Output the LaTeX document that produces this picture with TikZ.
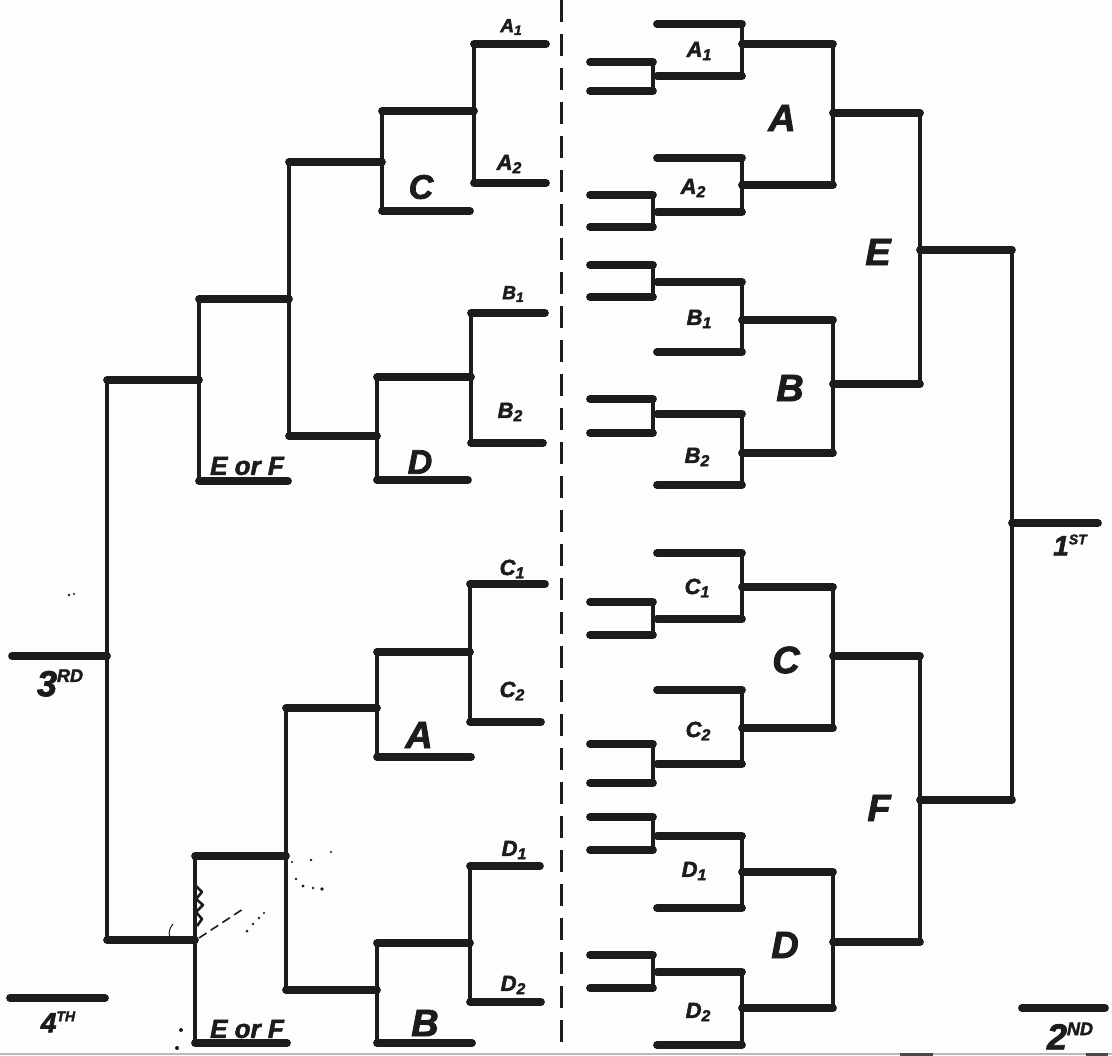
\documentclass[tikz,border=0pt]{standalone}
\usepackage{fontspec}
\setmainfont{Liberation Sans}
\newfontfamily\handfont{Liberation Sans}[FakeBold=2.2]
\definecolor{inkc}{HTML}{1C1C1C}
\definecolor{paper}{HTML}{FDFDFD}
% letter with a lowered index (A1, B2, ...) and with a raised ending (3RD, 1ST, ...)
\newcommand\lowidx[2]{#1\raisebox{-0.28ex}{\scalebox{0.72}{#2}}}
\newcommand\highend[2]{#1\raisebox{0.75ex}{\scalebox{0.5}{#2}}}
% right-hand first round: pair of entry stubs, and the box they feed
\newcommand\stubpair[2]{%
  \draw[hbar] (590,#1) -- (653,#1);
  \draw[hbar] (590,#2) -- (653,#2);
  \draw[vbar] (653,#1) -- (653,#2);}
\newcommand\boxpair[3]{%
  \draw[hbar] (657,#1) -- (742,#1);
  \draw[hbar] (657,#2) -- (742,#2);
  \draw[vbar] (742,#1) -- (742,#2);
  \draw[hbar] (742,#3) -- (833,#3);}
\tikzset{
  hbar/.style={draw=inkc, line width=7.8pt, line cap=round},
  vbar/.style={draw=inkc, line width=4.8pt, line cap=round},
  lvbar/.style={draw=inkc, line width=4.2pt, line cap=round},
  tag/.style={text=inkc, inner sep=0pt, font=\handfont\bfseries\itshape\fontsize{22}{22}\selectfont},
  smalltag/.style={tag, font=\handfont\bfseries\itshape\fontsize{19}{19}\selectfont},
  bigtag/.style={tag, font=\handfont\bfseries\itshape\fontsize{38}{38}\selectfont},
  midtag/.style={tag, font=\handfont\bfseries\itshape\fontsize{34}{34}\selectfont},
  placetag/.style={tag, font=\handfont\bfseries\itshape\fontsize{36}{36}\selectfont},
  speck/.style={fill=inkc},
}
\begin{document}
\begin{tikzpicture}[x=1pt,y=-1pt]
\fill[paper] (0,0) rectangle (1112,1056);
\useasboundingbox (0,0) rectangle (1112,1056);

% ---------- dividing line ----------
\draw[inkc, line width=3pt, dash pattern=on 22pt off 12pt] (561,0) -- (561,1050);

% ---------- left bracket, upper half ----------
\draw[hbar] (474,44) -- (546,44);
\draw[hbar] (474,183) -- (546,183);
\draw[vbar] (474,44) -- (474,183);
\draw[hbar] (382,111) -- (474,111);
\draw[vbar] (382,111) -- (382,211);
\draw[hbar] (382,211) -- (470,211);
\draw[hbar] (289,162) -- (382,162);

\draw[hbar] (471,313) -- (545,313);
\draw[hbar] (471,443) -- (543,443);
\draw[vbar] (471,313) -- (471,443);
\draw[hbar] (377,377) -- (471,377);
\draw[vbar] (377,377) -- (377,480);
\draw[hbar] (377,480) -- (468,480);
\draw[hbar] (289,436) -- (377,436);

\draw[lvbar] (289,162) -- (289,436);
\draw[hbar] (199,299) -- (289,299);
\draw[lvbar] (199,299) -- (199,481);
\draw[hbar] (199,481) -- (288,481);
\draw[hbar] (107,380) -- (199,380);

% ---------- left bracket, lower half ----------
\draw[hbar] (470,584) -- (545,584);
\draw[hbar] (470,722) -- (541,722);
\draw[vbar] (470,584) -- (470,722);
\draw[hbar] (377,652) -- (470,652);
\draw[vbar] (377,652) -- (377,757);
\draw[hbar] (377,757) -- (471,757);
\draw[hbar] (286,708) -- (377,708);

\draw[hbar] (470,866) -- (540,866);
\draw[hbar] (470,1002) -- (541,1002);
\draw[vbar] (470,866) -- (470,1002);
\draw[hbar] (377,943) -- (470,943);
\draw[vbar] (377,943) -- (377,1043);
\draw[hbar] (377,1043) -- (472,1043);
\draw[hbar] (286,990) -- (377,990);

\draw[lvbar] (286,708) -- (286,990);
\draw[hbar] (195,856) -- (286,856);
\draw[lvbar] (195,856) -- (195,1043);
\draw[hbar] (195,1043) -- (287,1043);
\draw[hbar] (107,940) -- (195,940);

\draw[lvbar] (107,380) -- (107,940);
\draw[hbar] (12,656) -- (107,656);
\draw[hbar] (10,998) -- (105,998);

% ---------- right bracket ----------
\stubpair{62}{91}   \boxpair{24}{76}{44}
\stubpair{195}{227} \boxpair{158}{212}{185}
\stubpair{265}{297} \boxpair{282}{352}{320}
\stubpair{399}{433} \boxpair{414}{485}{453}
\stubpair{602}{635} \boxpair{553}{619}{587}
\stubpair{744}{783} \boxpair{690}{764}{728}
\stubpair{817}{850} \boxpair{836}{908}{872}
\stubpair{955}{988} \boxpair{972}{1045}{1008}

\draw[vbar] (833,44) -- (833,185);
\draw[vbar] (833,320) -- (833,453);
\draw[vbar] (833,587) -- (833,728);
\draw[vbar] (833,872) -- (833,1008);
\draw[hbar] (833,113) -- (920,113);
\draw[hbar] (833,384) -- (920,384);
\draw[hbar] (833,656) -- (920,656);
\draw[hbar] (833,942) -- (920,942);

\draw[lvbar] (920,113) -- (920,384);
\draw[lvbar] (920,656) -- (920,942);
\draw[hbar] (920,250) -- (1012,250);
\draw[hbar] (920,800) -- (1012,800);
\draw[lvbar] (1012,250) -- (1012,800);
\draw[hbar] (1012,523) -- (1098,523);
\draw[hbar] (1022,1008) -- (1105,1008);

% ---------- labels, left ----------
\node[smalltag] (lA1) at (511,27) {\lowidx{A}{1}};
\node[tag] (lA2) at (509,164) {\lowidx{A}{2}};
\node[midtag] (lC) at (421,187) {C};
\node[smalltag] (lB1) at (513,294) {\lowidx{B}{1}};
\node[tag] (lB2) at (510,412) {\lowidx{B}{2}};
\node[midtag] (lD) at (420,462) {D};
\node[tag, font=\handfont\bfseries\itshape\fontsize{26}{26}\selectfont] (lEF1) at (247,466) {E or F};
\node[tag] (lC1) at (512,569) {\lowidx{C}{1}};
\node[tag] (lC2) at (512,691) {\lowidx{C}{2}};
\node[bigtag] (lA) at (419,735) {A};
\node[tag] (lD1) at (514,850) {\lowidx{D}{1}};
\node[tag] (lD2) at (513,985) {\lowidx{D}{2}};
\node[bigtag] (lB) at (425,1023) {B};
\node[tag, font=\handfont\bfseries\itshape\fontsize{26}{26}\selectfont] (lEF2) at (247,1029) {E or F};
\node[placetag] (third) at (60,683) {\highend{3}{RD}};
\node[tag, font=\handfont\bfseries\itshape\fontsize{28}{28}\selectfont] (fourth) at (58,1022) {\highend{4}{TH}};

% ---------- labels, right ----------
\node[tag] (rA1) at (699,51) {\lowidx{A}{1}};
\node[bigtag] (rA) at (782,118) {A};
\node[tag] (rA2) at (693,188) {\lowidx{A}{2}};
\node[bigtag] (rE) at (878,252) {E};
\node[tag] (rB1) at (699,319) {\lowidx{B}{1}};
\node[bigtag] (rB) at (790,388) {B};
\node[tag] (rB2) at (697,457) {\lowidx{B}{2}};
\node[tag] (rC1) at (697,588) {\lowidx{C}{1}};
\node[bigtag] (rC) at (786,660) {C};
\node[tag] (rC2) at (698,731) {\lowidx{C}{2}};
\node[bigtag] (rF) at (879,808) {F};
\node[tag] (rD1) at (694,871) {\lowidx{D}{1}};
\node[bigtag] (rD) at (785,945) {D};
\node[tag] (rD2) at (698,1012) {\lowidx{D}{2}};
\node[tag, font=\handfont\bfseries\itshape\fontsize{28}{28}\selectfont] (first) at (1070,545) {\highend{1}{ST}};
\node[placetag] (second) at (1070,1036) {\highend{2}{ND}};

% ---------- smudges on the sheet ----------
\fill[speck] (69,595) circle (1.3) (74,594) circle (1.1);
\draw[inkc, line width=1.6pt, dash pattern=on 9pt off 5pt] (199,938) -- (243,909);
\fill[speck] (247,931) circle (1.5) (253,924) circle (1.3) (259,918) circle (1.4) (264,913) circle (1.2);
\fill[speck] (292,862) circle (1.2) (311,860) circle (1.3) (331,852) circle (1.1)
  (296,879) circle (1.3) (303,886) circle (1.6) (313,888) circle (1.4) (322,889) circle (1.8);
\draw[inkc, line width=1pt] (173,924) .. controls (168,930) and (168,936) .. (172,941);
\draw[inkc, line width=2.6pt, line join=round]
  (196,886) -- (202,892) -- (196,899) -- (203,905) -- (196,912) -- (202,919) -- (197,926);
\fill[speck] (181,1030) circle (2) (177,1048) circle (2);
\draw[gray!55, line width=2pt] (0,1054) -- (1112,1054);
\draw[inkc!80, line width=3pt] (900,1054) -- (933,1054) (1086,1054) -- (1108,1054);
\end{tikzpicture}
\end{document}
